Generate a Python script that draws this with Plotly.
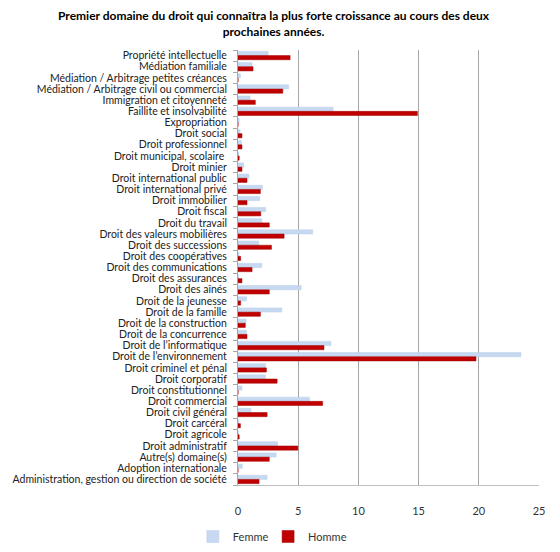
import plotly.graph_objects as go

categories = [
    "Propriété intellectuelle",
    "Médiation familiale",
    "Médiation / Arbitrage petites créances",
    "Médiation / Arbitrage civil ou commercial",
    "Immigration et citoyenneté",
    "Faillite et insolvabilité",
    "Expropriation",
    "Droit social",
    "Droit professionnel",
    "Droit municipal, scolaire ",
    "Droit minier",
    "Droit international public",
    "Droit international privé",
    "Droit immobilier",
    "Droit fiscal",
    "Droit du travail",
    "Droit des valeurs mobilières",
    "Droit des successions",
    "Droit des coopératives",
    "Droit des communications",
    "Droit des assurances",
    "Droit des aînés",
    "Droit de la jeunesse",
    "Droit de la famille",
    "Droit de la construction",
    "Droit de la concurrence",
    "Droit de l’informatique",
    "Droit de l’environnement",
    "Droit criminel et pénal",
    "Droit corporatif",
    "Droit constitutionnel",
    "Droit commercial",
    "Droit civil général",
    "Droit carcéral",
    "Droit agricole",
    "Droit administratif",
    "Autre(s) domaine(s)",
    "Adoption internationale",
    "Administration, gestion ou direction de société",
]

femme = [2.5, 1.17, 0.2, 4.2, 1.0, 7.9, 0.1, 0.17, 0.28, 0.05, 0.47, 0.9, 2.03, 1.8,
         2.3, 1.97, 6.2, 1.72, 0.08, 1.97, 0.05, 5.25, 0.7, 3.64, 0.67, 0.7, 7.72,
         23.5, 2.28, 2.28, 0.33, 5.94, 1.08, 0.05, 0.03, 3.28, 3.17, 0.36, 2.42]
homme = [4.33, 1.25, 0.0, 3.72, 1.44, 14.9, 0.0, 0.33, 0.33, 0.1, 0.33, 0.75, 1.86, 0.75,
         1.89, 2.6, 3.83, 2.78, 0.22, 1.17, 0.33, 2.6, 0.22, 1.86, 0.61, 0.75, 7.14,
         19.77, 2.36, 3.25, 0.0, 7.03, 2.42, 0.2, 0.1, 4.97, 2.6, 0.0, 1.75]

x_ticks = [0, 5, 10, 15, 20, 25]

title_text = ("<b>Premier domaine du droit qui connaîtra la plus forte croissance au cours des deux"
              "<br>prochaines années.</b>")

FONT = "Lato, Open Sans, sans-serif"

fig = go.Figure()
fig.add_trace(go.Bar(
    y=categories, x=femme, orientation="h", name="Femme", legend="legend",
    showlegend=True,
    marker=dict(color="#C6D9F1", line=dict(color="#B9CFEA", width=0.5)),
))
fig.add_trace(go.Bar(
    y=categories, x=homme, orientation="h", name="Homme", legend="legend2",
    showlegend=True,
    marker=dict(color="#C00000", line=dict(color="#A00000", width=0.5)),
))

fig.add_annotation(
    text=title_text, xref="paper", yref="paper",
    x=0.12, xanchor="center", y=1.02, yanchor="bottom",
    showarrow=False, align="center",
    font=dict(family=FONT, size=12, color="#000000"),
)

leg_common = dict(
    orientation="h", yanchor="top", y=-0.085, xanchor="left",
    font=dict(family=FONT, size=11, color="#333333"),
    bgcolor="rgba(0,0,0,0)", visible=True,
)

fig.update_layout(
    width=560, height=552,
    showlegend=True,
    margin=dict(l=238, r=21, t=50, b=67, autoexpand=False),
    paper_bgcolor="white", plot_bgcolor="white",
    barmode="group", bargap=0.25, bargroupgap=0.0,
    font=dict(family=FONT, size=11, color="#222222"),
    legend=dict(x=-0.15, **leg_common),
    legend2=dict(x=0.1, **leg_common),
    xaxis=dict(
        range=[0, 25], tickvals=x_ticks, ticktext=[str(v) for v in x_ticks],
        showgrid=True, gridcolor="#A6A6A6", gridwidth=1,
        zeroline=False, showline=True, linecolor="#BFBFBF",
        ticks="", ticklabelstandoff=16, automargin=False,
        tickfont=dict(family=FONT, size=11, color="#333333"),
    ),
    yaxis=dict(
        autorange="reversed", type="category",
        tickmode="array", tickvals=categories, ticktext=categories,
        showline=True, linecolor="#A6A6A6",
        ticks="outside", ticklen=4, tickcolor="#A6A6A6", tickson="boundaries",
        ticklabelstandoff=8, automargin=False,
        showgrid=False,
        tickfont=dict(family=FONT, size=10.5, color="#222222"),
    ),
)

fig.write_html("out.html")
